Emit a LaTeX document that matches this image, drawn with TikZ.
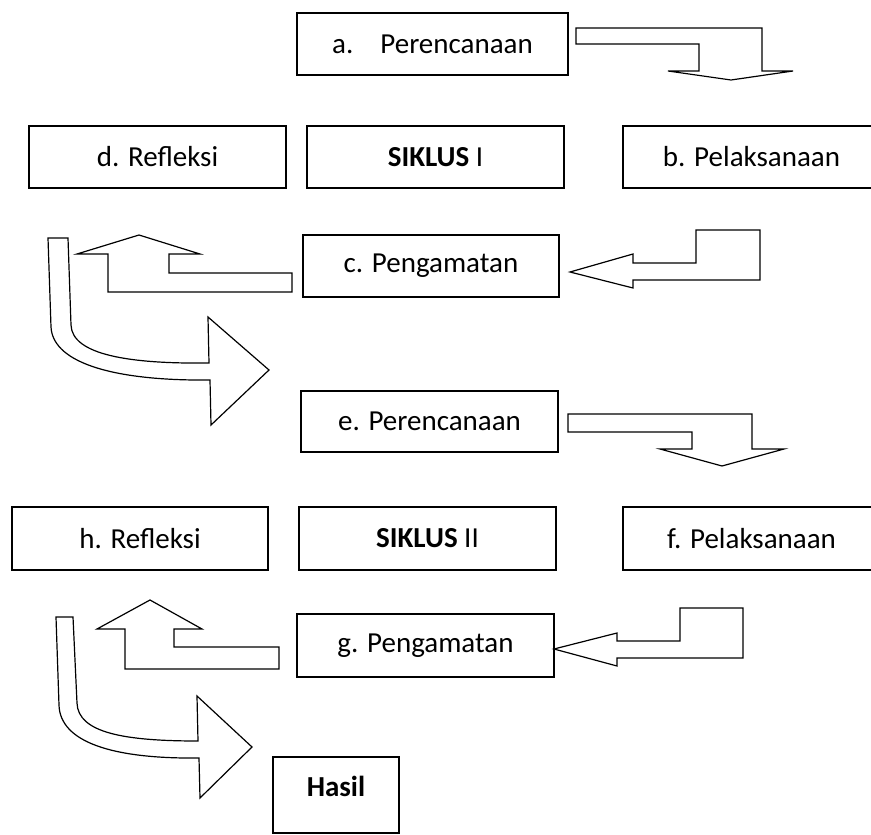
\documentclass[tikz,border=0pt]{standalone}
\usepackage{fontspec}
\setmainfont{Carlito}
\begin{document}
\begin{tikzpicture}[x=1pt,y=-1pt,
  box/.style={draw, line width=1.2pt, inner sep=0pt, fill=white,
    font=\fontsize{29}{35}\selectfont},
  blockarrow/.style={draw, fill=white, line width=1.2pt, line join=miter}]
\useasboundingbox[fill=white] (0,0) rectangle (871,835);

% boxes
\node[box, minimum width=271pt, minimum height=62pt] (a) at (432.5,44) {a.\hspace{27pt}Perencanaan};
\node[box, minimum width=257pt, minimum height=62pt] (d) at (157.5,157) {d. Refleksi};
\node[box, minimum width=257pt, minimum height=62pt] (s1) at (435.5,157) {\textbf{SIKLUS} I};
\node[box, minimum width=257pt, minimum height=62pt] (b) at (751.5,157) {b. Pelaksanaan};
\node[box, minimum width=256pt, minimum height=62pt] (c) at (431,266) {c. Pengamatan};
\node[box, minimum width=257pt, minimum height=61pt] (e) at (429.5,421.5) {e. Perencanaan};
\node[box, minimum width=256pt, minimum height=63pt] (h) at (140,538.5) {h. Refleksi};
\node[box, minimum width=257pt, minimum height=63pt] (s2) at (427.5,538.5) {\textbf{SIKLUS} II};
\node[box, minimum width=257pt, minimum height=63pt] (f) at (751.5,538.5) {f. Pelaksanaan};
\node[box, minimum width=257pt, minimum height=63pt] (g) at (425.5,645.5) {g. Pengamatan};
\node[box, minimum width=126pt, minimum height=76pt] (hasil) at (336,795) {};
\node[font=\fontsize{29}{35}\selectfont\bfseries, inner sep=0pt] (hasiltext) at (336,786) {Hasil};

% a -> b
\draw[blockarrow] (576,28) -- (762,28) -- (762,71) -- (793,71) -- (731,80) -- (668,71)
  -- (699,71) -- (699,44) -- (576,44) -- cycle;
% b -> c
\draw[blockarrow] (570,272) -- (633,254) -- (633,263) -- (696,263) -- (696,230) -- (760,230)
  -- (760,280) -- (633,280) -- (633,288) -- cycle;
% c -> d
\draw[blockarrow] (139,235) -- (200,254) -- (169,254) -- (169,273) -- (292,273) -- (292,292)
  -- (108,292) -- (108,254) -- (77,254) -- cycle;
% d -> e (curved)
\draw[blockarrow] (48,238) -- (68,238) -- (71,325) .. controls (72,355) and (130,364) .. (209,363)
  -- (208,317) -- (269,370) -- (211,425) -- (210,380) .. controls (120,381) and (53,365) .. (51,327) -- cycle;
% e -> f
\draw[blockarrow] (568,414) -- (752,414) -- (752,449) -- (784,449) -- (722,466) -- (660,449)
  -- (692,449) -- (692,432) -- (568,432) -- cycle;
% f -> g
\draw[blockarrow] (554,649) -- (617,633) -- (617,641) -- (680,641) -- (680,608) -- (743,608)
  -- (743,658) -- (617,658) -- (617,666) -- cycle;
% g -> h
\draw[blockarrow] (150,600) -- (202,629) -- (174,629) -- (174,647) -- (279,647) -- (279,669)
  -- (125,669) -- (125,629) -- (97,629) -- cycle;
% h -> hasil (curved)
\draw[blockarrow] (56,617) -- (73,617) -- (77,703) .. controls (78,733) and (125,741) .. (198,741)
  -- (197,696) -- (252,747) -- (200,798) -- (199,758) .. controls (112,759) and (60,742) .. (59,705) -- cycle;
\end{tikzpicture}
\end{document}
